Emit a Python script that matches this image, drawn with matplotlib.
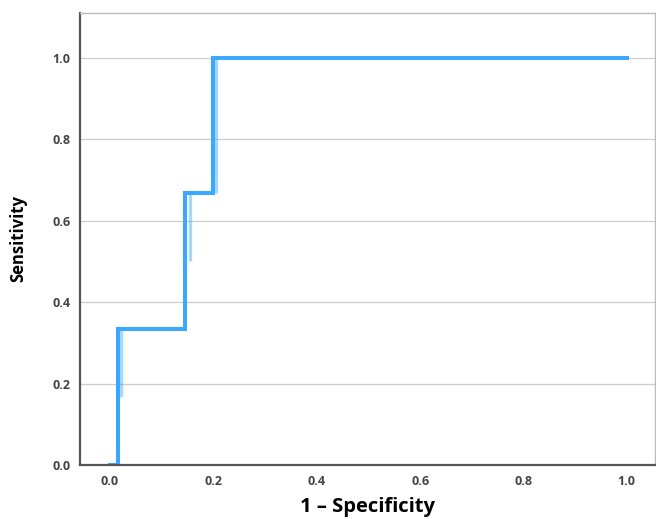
import matplotlib.pyplot as plt

# ROC step curve (1 - specificity vs sensitivity)
fpr = [0.0, 0.015, 0.015, 0.145, 0.145, 0.2, 0.2, 1.0]
tpr = [0.0, 0.0, 0.333, 0.333, 0.667, 0.667, 1.0, 1.0]

# faint overlapping segments beside the vertical steps
ghost_x = [[0.022, 0.022], [0.155, 0.155], [0.205, 0.205]]
ghost_y = [[0.167, 0.333], [0.5, 0.667], [0.667, 1.0]]

ticks = [0.0, 0.2, 0.4, 0.6, 0.8, 1.0]

plt.rcParams['font.family'] = ['Open Sans', 'DejaVu Sans']

fig = plt.figure(figsize=(6.56, 5.19), dpi=100)
ax = fig.add_axes([0.122, 0.104, 0.876, 0.871])

blue = '#3aa8ff'
for gx, gy in zip(ghost_x, ghost_y):
    ax.plot(gx, gy, color=blue, lw=2.4, alpha=0.45, solid_capstyle='butt')
ax.plot(fpr, tpr, color=blue, lw=2.9, solid_joinstyle='miter')

ax.set_xlim(-0.058, 1.054)
ax.set_ylim(0, 1.11)
ax.set_xticks(ticks)
ax.set_yticks(ticks)
ax.set_xticklabels([f"{t:.1f}" for t in ticks])
ax.set_yticklabels([f"{t:.1f}" for t in ticks])
ax.tick_params(length=0, labelsize=9, labelcolor='#444444', pad=7)
for lab in ax.get_xticklabels() + ax.get_yticklabels():
    lab.set_fontweight('bold')

ax.grid(axis='y', color='#cccccc', lw=0.9)
ax.set_axisbelow(True)
for s in ['left', 'bottom']:
    ax.spines[s].set_color('#555555')
    ax.spines[s].set_linewidth(1.6)
for s in ['top', 'right']:
    ax.spines[s].set_color('#bbbbbb')
    ax.spines[s].set_linewidth(1.0)

ax.set_xlabel('1 – Specificity', fontsize=14.5, fontweight='bold', labelpad=7)
ax.set_ylabel('Sensitivity', fontsize=12, fontweight='bold', labelpad=18)

fig.savefig('out.png', dpi=100)
